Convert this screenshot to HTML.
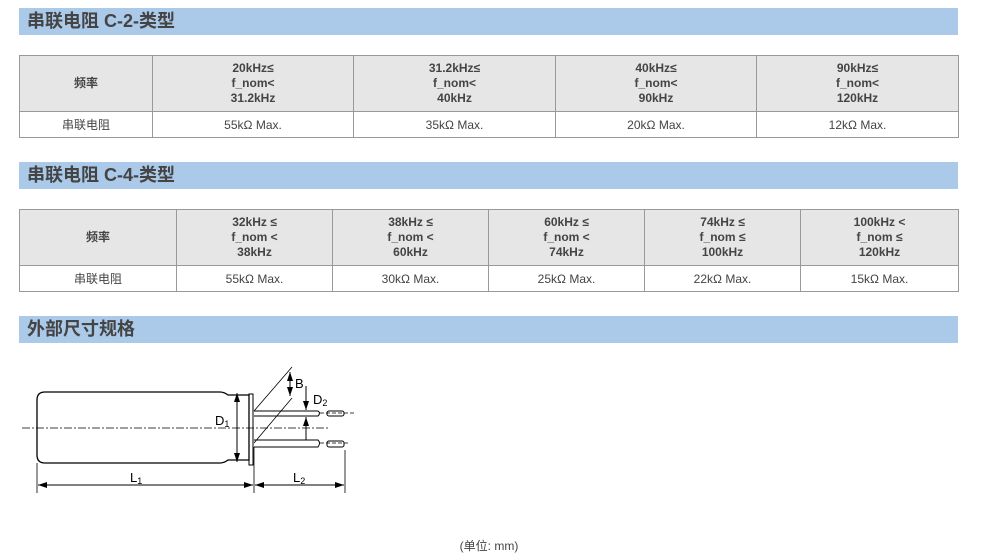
<!DOCTYPE html>
<html><head><meta charset="utf-8"><style>
body{margin:0;width:982px;height:557px;background:#fff;position:relative;font-family:"Liberation Sans","Noto Sans CJK SC",sans-serif;overflow:hidden}
.bar{position:absolute;left:19px;width:939px;height:27px;background:#abc9e8;color:#444;font-weight:bold;font-size:18px;line-height:27px;padding-left:8px;box-sizing:border-box}
table{position:absolute;left:19px;width:940px;border-collapse:collapse;font-size:12px;color:#444}
td{border:1px solid #999;text-align:center;padding:0}
tr.h td{background:#e6e6e6;font-weight:bold;height:55px;line-height:15px}
tr.d td{height:25px}
.cap{position:absolute;left:0;width:978px;top:537px;text-align:center;font-size:12px;color:#444}
</style></head><body>
<div class="bar" style="top:8px">串联电阻 C-2-类型</div>
<table style="top:55px">
<colgroup><col style="width:133px"><col style="width:201px"><col style="width:202px"><col style="width:201px"><col style="width:202px"></colgroup>
<tr class="h"><td>频率</td><td>20kHz≤<br>f_nom&lt;<br>31.2kHz</td><td>31.2kHz≤<br>f_nom&lt;<br>40kHz</td><td>40kHz≤<br>f_nom&lt;<br>90kHz</td><td>90kHz≤<br>f_nom&lt;<br>120kHz</td></tr>
<tr class="d"><td>串联电阻</td><td>55kΩ Max.</td><td>35kΩ Max.</td><td>20kΩ Max.</td><td>12kΩ Max.</td></tr>
</table>
<div class="bar" style="top:162px">串联电阻 C-4-类型</div>
<table style="top:209px">
<colgroup><col style="width:157px"><col style="width:156px"><col style="width:156px"><col style="width:156px"><col style="width:156px"><col style="width:158px"></colgroup>
<tr class="h"><td>频率</td><td>32kHz ≤<br>f_nom &lt;<br>38kHz</td><td>38kHz ≤<br>f_nom &lt;<br>60kHz</td><td>60kHz ≤<br>f_nom &lt;<br>74kHz</td><td>74kHz ≤<br>f_nom ≤<br>100kHz</td><td>100kHz &lt;<br>f_nom ≤<br>120kHz</td></tr>
<tr class="d"><td>串联电阻</td><td>55kΩ Max.</td><td>30kΩ Max.</td><td>25kΩ Max.</td><td>22kΩ Max.</td><td>15kΩ Max.</td></tr>
</table>
<div class="bar" style="top:316px">外部尺寸规格</div>
<svg style="position:absolute;left:0;top:0" width="982" height="557" font-family="Liberation Sans,sans-serif">
<defs><marker id="a" markerUnits="userSpaceOnUse" markerWidth="9" markerHeight="6" refX="9" refY="3" orient="auto-start-reverse"><path d="M0,0L9,3L0,6z" fill="#000"/></marker></defs>
<g stroke="#000" fill="none">
<path d="M45,392 H220 Q224,392 228,395 H249 V460 H228 Q224,463 220,463 H45 Q37,463 37,455 V400 Q37,392 45,392Z" stroke-width="1.3"/>
<rect x="249" y="394" width="4" height="71"/>
<path d="M254,411 H318 Q321,413 318,416 H254 M254,440 H318 Q321,443 318,447 H254"/>
<rect x="327" y="411" width="17" height="5" rx="2"/>
<rect x="327" y="441" width="17" height="6" rx="2"/>
<path d="M22,428 H330" stroke-dasharray="8,2,2,2" stroke-width="0.8"/>
<path d="M320,413 H356 M320,443 H350" stroke-dasharray="4,2" stroke-width="0.8"/>
<path d="M254,411 L292,367 M254,443 L292,398" stroke-width="0.8"/>
<path d="M237,393 V462" marker-start="url(#a)" marker-end="url(#a)"/>
<path d="M290,372 V396" marker-start="url(#a)" marker-end="url(#a)"/>
<path d="M306,386 V410" marker-end="url(#a)"/>
<path d="M306,440 V417" marker-end="url(#a)"/>
<path d="M37,463 V493 M254,447 V493 M345,450 V493" stroke-width="0.8"/>
<path d="M38,485 H253" marker-start="url(#a)" marker-end="url(#a)"/>
<path d="M255,485 H344" marker-start="url(#a)" marker-end="url(#a)"/>
</g>
<g font-size="13" fill="#000">
<text x="215" y="425">D<tspan font-size="9" dy="2">1</tspan></text>
<text x="295" y="388">B</text>
<text x="313" y="404">D<tspan font-size="9" dy="2">2</tspan></text>
<text x="130" y="482">L<tspan font-size="9" dy="2">1</tspan></text>
<text x="293" y="482">L<tspan font-size="9" dy="2">2</tspan></text>
</g>
</svg>
<div class="cap">(单位: mm)</div>
</body></html>
